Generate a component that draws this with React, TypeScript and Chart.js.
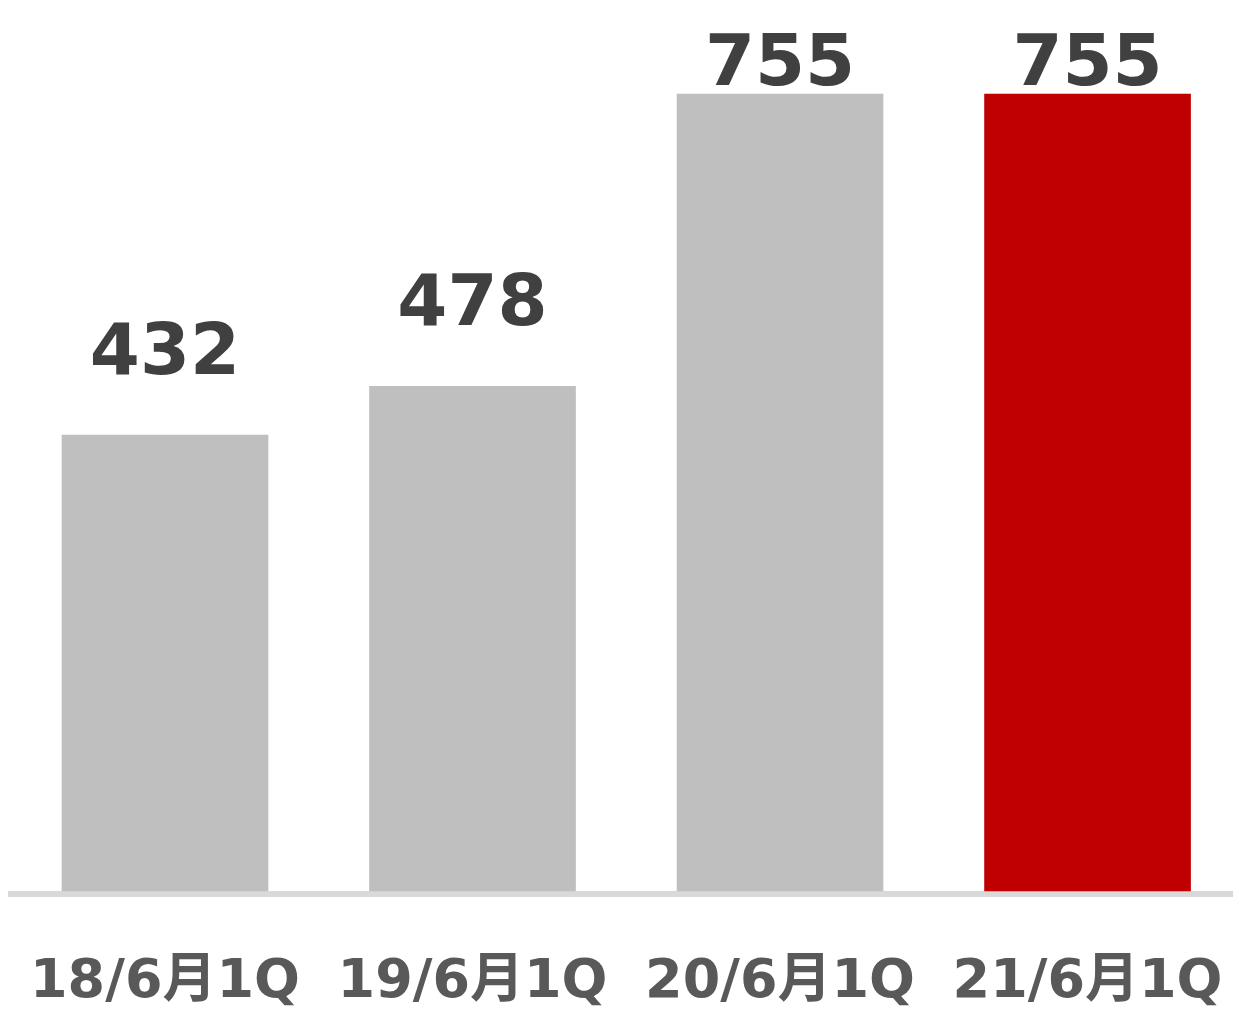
import React, { useEffect, useRef } from "react";
import { Chart, registerables } from "chart.js";

Chart.register(...registerables);

const categories = ["18/6月1Q", "19/6月1Q", "20/6月1Q", "21/6月1Q"];
const values = [432, 478, 755, 755];
const barColors = ["#bfbfbf", "#bfbfbf", "#bfbfbf", "#c00000"];

const FONT = '"DejaVu Sans", "Noto Sans CJK JP", sans-serif';

const valueLabels = {
  id: "valueLabels",
  afterDatasetsDraw(chart: any) {
    const ctx = chart.ctx;
    const meta = chart.getDatasetMeta(0);
    ctx.save();
    ctx.font = `bold 72px ${FONT}`;
    ctx.fillStyle = "#404040";
    ctx.textAlign = "center";
    ctx.textBaseline = "alphabetic";
    meta.data.forEach((bar: any, i: number) => {
      const y = Math.max(bar.y - 61, 85);
      ctx.fillText(String(values[i]), bar.x, y);
    });
    ctx.restore();
  },
};

export default function App() {
  const ref = useRef<HTMLCanvasElement | null>(null);
  useEffect(() => {
    if (!ref.current) return;
    const chart = new Chart(ref.current, {
      type: "bar",
      data: {
        datasets: [
          {
            data: values.map((v, i) => ({ x: i, y: v })),
            backgroundColor: barColors,
            barThickness: 206,
            borderWidth: 0,
          },
        ],
      },
      options: {
        animation: false,
        responsive: true,
        maintainAspectRatio: false,
        layout: { padding: { left: 11, right: 0, top: 0, bottom: 0 } },
        plugins: { legend: { display: false }, tooltip: { enabled: false } },
        scales: {
          x: {
            type: "linear",
            offset: false,
            min: -0.5008,
            max: 3.473,
            grid: { display: false, drawTicks: false, tickLength: 0 },
            border: { display: true, color: "#d9d9d9", width: 6 },
            afterBuildTicks: (scale: any) => {
              scale.ticks = categories.map((_, i) => ({ value: i }));
            },
            afterFit: (scale: any) => {
              scale.height = 116;
              scale.paddingLeft = 0;
              scale.paddingRight = 0;
            },
            ticks: {
              autoSkip: false,
              maxRotation: 0,
              padding: 62,
              color: "#595959",
              font: { family: FONT, size: 54, weight: "bold", lineHeight: 1 },
              callback: (v: any) => categories[v as number] ?? "",
            },
          },
          y: {
            display: false,
            min: -2.842,
            max: 844.1,
          },
        },
      },
      plugins: [valueLabels],
    });
    return () => chart.destroy();
  }, []);
  return (
    <div style={{ position: "fixed", left: 0, top: 0, width: 1233, height: 1010, background: "#fff" }}>
      <canvas ref={ref} />
    </div>
  );
}
